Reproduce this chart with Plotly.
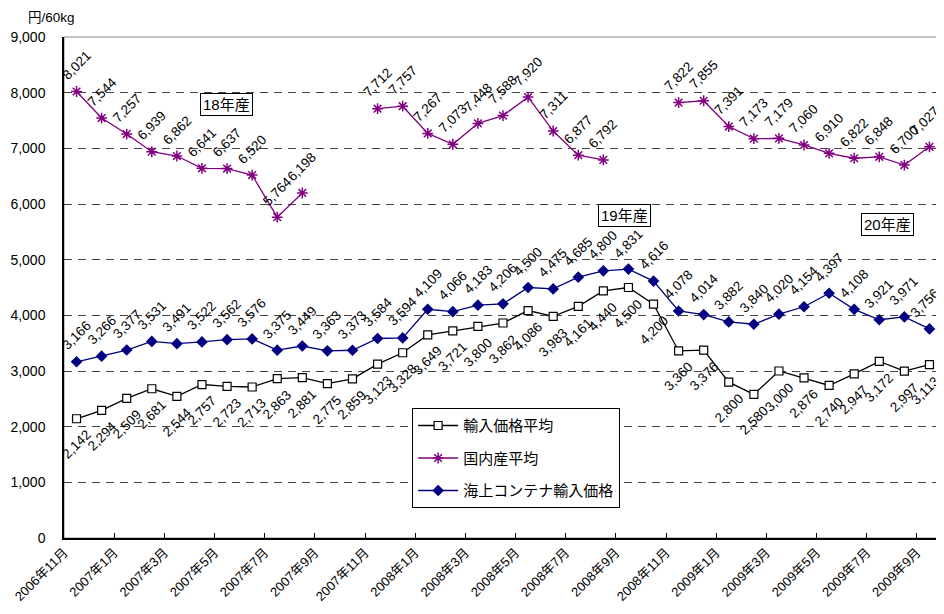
import plotly.graph_objects as go

months = ["2006年11月", "2006年12月",
          "2007年1月", "2007年2月", "2007年3月", "2007年4月", "2007年5月", "2007年6月",
          "2007年7月", "2007年8月", "2007年9月", "2007年10月", "2007年11月", "2007年12月",
          "2008年1月", "2008年2月", "2008年3月", "2008年4月", "2008年5月", "2008年6月",
          "2008年7月", "2008年8月", "2008年9月", "2008年10月", "2008年11月", "2008年12月",
          "2009年1月", "2009年2月", "2009年3月", "2009年4月", "2009年5月", "2009年6月",
          "2009年7月", "2009年8月", "2009年9月"]

import_avg = [2142, 2294, 2509, 2681, 2544, 2757, 2723, 2713, 2863, 2881, 2775, 2859,
              3123, 3328, 3649, 3721, 3800, 3862, 4086, 3983, 4161, 4440, 4500, 4200,
              3360, 3376, 2800, 2580, 3000, 2876, 2740, 2947, 3172, 2997, 3113]

domestic_avg = [8021, 7544, 7257, 6939, 6862, 6641, 6637, 6520, 5764, 6198, None, None,
                7712, 7757, 7267, 7073, 7448, 7588, 7920, 7311, 6877, 6792, None, None,
                7822, 7855, 7391, 7173, 7179, 7060, 6910, 6822, 6848, 6700, 7027]

container = [3166, 3266, 3377, 3531, 3491, 3522, 3562, 3576, 3375, 3449, 3363, 3373,
             3584, 3594, 4109, 4066, 4183, 4206, 4500, 4475, 4685, 4800, 4831, 4616,
             4078, 4014, 3882, 3840, 4020, 4154, 4397, 4108, 3921, 3971, 3756]

series_names = ["輸入価格平均", "国内産平均", "海上コンテナ輸入価格"]
crop_labels = ["18年産", "19年産", "20年産"]
crop_label_pos = [(6.49, 7780), (22.34, 5790), (32.82, 5625)]

FONT = "Liberation Sans, Arial, Noto Sans CJK JP"
xs = [i + 0.5 for i in range(len(months))]

fig = go.Figure()

fig.add_trace(go.Scatter(
    x=xs, y=import_avg, name=series_names[0], mode="lines+markers",
    line=dict(color="black", width=1.3),
    marker=dict(symbol="square", size=8, color="white", line=dict(color="black", width=1.2)),
    legendgroup="a"))
fig.add_trace(go.Scatter(
    x=xs, y=domestic_avg, name=series_names[1], mode="lines+markers",
    line=dict(color="#800080", width=1.3),
    marker=dict(symbol="asterisk-open", size=9, color="#800080", line=dict(color="#800080", width=1.5)),
    connectgaps=False, legendgroup="b"))
fig.add_trace(go.Scatter(
    x=xs, y=container, name=series_names[2], mode="lines+markers",
    line=dict(color="#000080", width=1.3),
    marker=dict(symbol="diamond", size=9, color="#000080"),
    legendgroup="c"))

annotations = []
n = len(months)
def add_labels(vals, yshift):
    for i, (x, v) in enumerate(zip(xs, vals)):
        if v is None:
            continue
        annotations.append(dict(
            x=x, y=v, xref="x", yref="y", text=f"{v:,}", showarrow=False,
            textangle=-45, yshift=yshift, xshift=(-4 if i == n - 1 else 0),
            font=dict(family=FONT, size=13.5, color="black")))

add_labels(import_avg, -26)
add_labels(domestic_avg, 26)
add_labels(container, 26)

for txt, (cx, cy) in zip(crop_labels, crop_label_pos):
    annotations.append(dict(
        x=cx, y=cy, xref="x", yref="y", text=txt, showarrow=False,
        font=dict(family=FONT, size=15, color="black"),
        bordercolor="black", borderwidth=1, bgcolor="white", borderpad=2))

annotations.append(dict(
    x=-0.043, y=1.038, xref="paper", yref="paper", text="円/60kg", showarrow=False,
    xanchor="left", yanchor="middle", font=dict(family=FONT, size=13.5, color="black")))

# page body has an 8px default margin, so the figure is sized to fit the 944x614 window
fig.update_layout(
    width=936, height=606,
    margin=dict(l=53, r=2, t=29, b=76),
    paper_bgcolor="white", plot_bgcolor="white",
    font=dict(family=FONT, size=14, color="black"),
    annotations=annotations,
    showlegend=True,
    legend=dict(x=0.3965, y=0.259, xanchor="left", yanchor="top",
                bordercolor="black", borderwidth=1, bgcolor="white",
                font=dict(family=FONT, size=15), tracegroupgap=10,
                itemwidth=40),
    shapes=[dict(type="rect", xref="paper", yref="paper", x0=0, y0=0, x1=1, y1=1,
                 line=dict(color="#888888", width=1), layer="below")],
)

fig.update_xaxes(
    range=[0, len(months)], tickmode="array",
    tickvals=list(range(0, len(months), 2)),
    ticktext=[months[i] for i in range(0, len(months), 2)],
    tickangle=-45, ticks="inside", ticklen=5, tickcolor="black",
    showline=True, linecolor="black", linewidth=1.5, showgrid=False, zeroline=False,
    tickfont=dict(family=FONT, size=13))

fig.update_yaxes(
    range=[0, 9000], dtick=1000, tickformat=",", ticks="",
    showline=True, linecolor="black", linewidth=1.5,
    showgrid=True, gridcolor="#444444", gridwidth=1, griddash="8px,6px",
    zeroline=False, ticklabelstandoff=14,
    tickfont=dict(family=FONT, size=14))

fig.write_html("out.html")
